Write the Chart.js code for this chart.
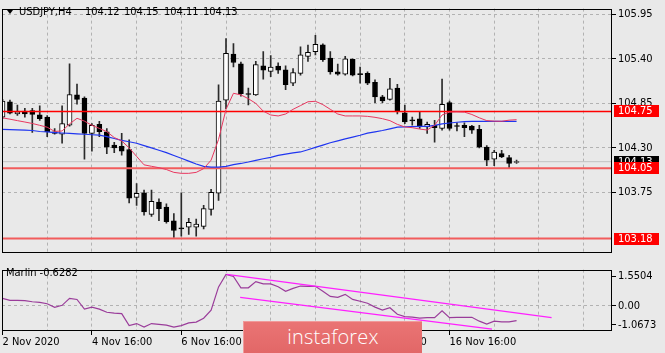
<!DOCTYPE html>
<html>
<head>
<meta charset="utf-8">
<script src="https://cdn.jsdelivr.net/npm/chart.js@4.4.1/dist/chart.umd.min.js"></script>
<style>
  html, body { margin: 0; padding: 0; background: #e9e9e9; }
  #wrap { position: relative; width: 665px; height: 353px; overflow: hidden; background: #e9e9e9;
          font-family: Tahoma, "DejaVu Sans Condensed", "Liberation Sans", sans-serif; font-size: 11px; color: #000; }
  #c1 { position: absolute; left: 0; top: 0; }
  #c2 { position: absolute; left: 0; top: 261px; }
  .t { position: absolute; white-space: pre; line-height: 13px; }
  #tri { position: absolute; left: 7px; top: 10px; width: 0; height: 0;
         border-left: 3.5px solid transparent; border-right: 3.5px solid transparent; border-top: 4px solid #000; }
  #logo { position: absolute; left: 243px; top: 321px; width: 179px; height: 40px;
          background: linear-gradient(#ea7474, #e06464); border-top: 1px solid #f09a9a; border-left: 1px solid #f09a9a;
          box-sizing: border-box; color: #fff; font-family: "Open Sans", "Lato", sans-serif; font-weight: 300;
          font-size: 20px; text-align: center; line-height: 30px; letter-spacing: 0.2px; }
</style>
</head>
<body>
<div id="wrap">
  <canvas id="c1" width="665" height="261"></canvas>
  <canvas id="c2" width="665" height="92"></canvas>
  <div id="tri"></div>
  <div class="t" style="left:19px;top:5px;">USDJPY,H4</div>
  <div class="t" style="left:85px;top:5px;">104.12</div>
  <div class="t" style="left:124px;top:5px;">104.15</div>
  <div class="t" style="left:164px;top:5px;">104.11</div>
  <div class="t" style="left:203px;top:5px;">104.13</div>
  <div class="t" style="left:6px;top:266px;">Marlin -0.6282</div>
  <div id="logo">instaforex</div>
</div>
<script>
// ---------------- data ----------------
const bars = [0,1,2,3,4,5,6,7,8,9,10,11,12,13,14,15,16,17,18,19,20,21,22,23,24,25,26,27,28,29,30,31,32,33,34,
  35,36,37,38,39,40,41,42,43,44,45,46,47,48,49,50,51,52,53,54,55,56,57,58,59,60,61,62,63,64,65,66,67,68,69];

const open  = [104.68,104.87,104.72,104.755,104.76,104.71,104.68,104.50,104.47,104.58,104.955,104.915,104.48,104.59,104.50,104.335,104.32,104.28,103.69,103.745,
  103.48,103.63,103.57,103.40,103.31,103.32,103.32,103.33,103.54,103.74,104.89,105.46,105.34,104.97,104.955,105.315,105.245,105.31,105.265,105.10,
  105.22,105.43,105.49,105.575,105.41,105.24,105.21,105.395,105.21,105.22,105.11,104.93,104.90,105.04,104.735,104.64,104.66,104.56,104.58,104.54,
  104.86,104.57,104.58,104.57,104.53,104.31,104.16,104.23,104.18,104.12];
const high  = [104.90,104.89,104.83,104.79,104.79,104.82,104.70,104.54,104.82,105.34,105.09,104.93,104.60,104.63,104.54,104.37,104.48,104.40,103.86,103.78,
  103.78,103.67,103.61,103.49,103.745,103.43,103.42,103.59,103.79,105.08,105.65,105.59,105.36,105.04,105.37,105.49,105.44,105.35,105.315,105.28,
  105.55,105.57,105.69,105.585,105.49,105.335,105.43,105.40,105.30,105.24,105.14,104.95,105.16,105.085,104.83,104.68,104.745,104.62,104.64,105.15,
  104.88,104.61,104.61,104.58,104.58,104.33,104.27,104.27,104.21,104.15];
const low   = [104.66,104.72,104.70,104.68,104.49,104.64,104.44,104.47,104.36,104.57,104.84,104.16,104.26,104.44,104.23,104.24,104.21,103.62,103.59,103.47,
  103.455,103.40,103.37,103.195,103.21,103.23,103.21,103.30,103.47,103.65,104.785,105.30,104.94,104.83,104.95,105.15,105.18,105.22,105.02,105.07,
  105.20,105.37,105.45,105.37,105.21,105.20,105.20,105.19,105.10,105.08,104.86,104.86,104.89,104.72,104.60,104.58,104.54,104.48,104.37,104.52,
  104.52,104.51,104.44,104.48,104.30,104.08,104.08,104.18,104.05,104.11];
const close = [104.88,104.73,104.745,104.72,104.715,104.66,104.50,104.48,104.60,104.96,104.90,104.48,104.58,104.50,104.31,104.30,104.26,103.68,103.74,103.51,
  103.64,103.55,103.39,103.28,103.30,103.38,103.36,103.55,103.75,104.88,105.47,105.355,104.97,104.96,105.33,105.26,105.30,105.26,105.08,105.23,
  105.45,105.48,105.58,105.39,105.24,105.21,105.40,105.20,105.205,105.10,104.93,104.88,105.03,104.755,104.62,104.635,104.56,104.59,104.55,104.84,
  104.54,104.565,104.55,104.52,104.31,104.15,104.25,104.19,104.11,104.13];

const maFast = [104.672,104.655,104.637,104.620,104.602,104.579,104.556,104.504,104.509,104.597,104.666,104.631,104.579,104.541,104.501,104.428,104.387,104.300,104.195,104.091,
  104.073,104.056,104.033,103.998,103.986,103.986,103.998,104.044,104.149,104.405,104.777,104.975,104.955,104.908,104.850,104.754,104.707,104.695,104.719,104.777,
  104.823,104.870,104.876,104.835,104.777,104.719,104.695,104.695,104.695,104.690,104.678,104.661,104.637,104.591,104.559,104.550,104.533,104.521,104.579,104.707,
  104.742,104.745,104.742,104.713,104.672,104.637,104.631,104.629,104.643,104.649];
const maSlow = [104.529,104.527,104.523,104.521,104.515,104.503,104.498,104.490,104.484,104.479,104.474,104.469,104.463,104.457,104.440,104.416,104.393,104.376,104.358,104.329,
  104.300,104.271,104.242,104.207,104.172,104.137,104.102,104.073,104.062,104.062,104.073,104.094,104.108,104.126,104.147,104.166,104.184,104.207,104.224,104.238,
  104.250,104.277,104.306,104.335,104.364,104.387,104.411,104.434,104.457,104.483,104.498,104.515,104.536,104.556,104.559,104.562,104.565,104.567,104.579,104.596,
  104.608,104.617,104.626,104.629,104.629,104.629,104.629,104.629,104.629,104.629];

const marlin = [0.324,0.240,0.240,0.229,0.179,0.152,0.095,-0.057,0.027,0.324,0.278,-0.133,-0.050,-0.133,-0.267,-0.305,-0.324,-0.838,-0.751,-0.903,
  -0.751,-0.781,-0.819,-0.903,-0.838,-0.724,-0.686,-0.522,-0.179,0.812,1.345,1.258,0.774,0.774,1.040,0.941,0.941,0.819,0.629,0.751,
  0.850,0.838,0.838,0.629,0.408,0.370,0.495,0.278,0.202,0.114,-0.050,-0.179,-0.076,-0.354,-0.457,-0.476,-0.522,-0.495,-0.495,-0.202,
  -0.495,-0.484,-0.484,-0.484,-0.648,-0.774,-0.648,-0.675,-0.675,-0.6282];

const trendUpperX = [30.1, 73.7];
const trendUpperY = [1.345, -0.495];
const trendLowerX = [31.9, 65.7];
const trendLowerY = [0.370, -0.991];

const priceTicks = [105.95, 105.40, 104.85, 104.30, 103.75];
const levelPrices = [104.75, 104.05, 103.18];
const bidPrice = 104.13;
const marlinTicks = [1.5504, 0, -1.0673];
const marlinTickLabels = ['1.5504', '0.00', '-1.0673'];
const dateTickBars = [0, 12, 24, 36, 48, 60];
const dateTickLabels = ['2 Nov 2020', '4 Nov 16:00', '6 Nov 16:00', '10 Nov 16:00', '12 Nov 16:00', '16 Nov 16:00'];
const gridBars = [6,12,18,24,30,36,42,48,54,60,66,72,78];

// ---------------- layout / style ----------------
const FONT = 'Tahoma, "DejaVu Sans Condensed", "Liberation Sans", sans-serif';
const X_MIN = -0.067, X_MAX = 81.81;
const GRID = '#b2b2b2';
const AXIS_W = 53;

const framePlugin = {
  id: 'frame',
  afterDraw(c) {
    const a = c.chartArea, g = c.ctx;
    g.save(); g.strokeStyle = '#000'; g.lineWidth = 1;
    g.strokeRect(Math.round(a.left) + 0.5, Math.round(a.top) + 0.5,
                 Math.round(a.right - a.left) - 1, Math.round(a.bottom - a.top) - 1);
    g.restore();
  }
};

const priceBoxes = {
  id: 'priceBoxes',
  afterDraw(c) {
    const y = c.scales.y, g = c.ctx;
    const boxes = [{v: bidPrice, bg: '#000'}].concat(levelPrices.map(v => ({v, bg: '#ff0000'})));
    g.save();
    g.font = '11px ' + FONT; g.textBaseline = 'middle'; g.textAlign = 'left';
    boxes.forEach(b => {
      const py = Math.round(y.getPixelForValue(b.v));
      g.fillStyle = b.bg; g.fillRect(614, py - 6, 45, 12);
      g.fillStyle = '#fff'; g.fillText(b.v.toFixed(2), 618, py + 0.5);
    });
    g.restore();
  }
};

const pts = (xs, ys) => xs.map((x, i) => ({x, y: ys[i]}));
const hline = v => [{x: X_MIN, y: v}, {x: X_MAX, y: v}];

Chart.defaults.font.family = FONT;
Chart.defaults.font.size = 11;
Chart.defaults.color = '#000';

new Chart(document.getElementById('c1'), {
  type: 'bar',
  data: {
    datasets: [
      {type: 'line', data: pts(bars, maFast), borderColor: '#e8375f', borderWidth: 1, pointRadius: 0, order: 0},
      {type: 'line', data: pts(bars, maSlow), borderColor: '#2036f0', borderWidth: 1.2, pointRadius: 0, order: 0},
      {type: 'line', data: hline(levelPrices[0]), borderColor: '#ff0000', borderWidth: 1.6, pointRadius: 0, order: 0},
      {type: 'line', data: hline(levelPrices[1]), borderColor: '#f25c5c', borderWidth: 2, pointRadius: 0, order: 0},
      {type: 'line', data: hline(levelPrices[2]), borderColor: '#f25c5c', borderWidth: 2, pointRadius: 0, order: 0},
      {type: 'bar', data: bars.map(i => ({x: i, y: [open[i], close[i]]})), barThickness: 5, grouped: false,
       minBarLength: 1, borderWidth: 1, borderColor: '#000', borderSkipped: false,
       backgroundColor: ctx => (close[ctx.dataIndex] > open[ctx.dataIndex] ? '#ffffff' : '#000000'), order: 1},
      {type: 'bar', data: bars.map(i => ({x: i, y: [low[i], high[i]]})), barThickness: 1, grouped: false,
       backgroundColor: '#2a2a2a', borderWidth: 0, order: 2},
      {type: 'line', data: hline(bidPrice), borderColor: '#c2c2c2', borderWidth: 1, pointRadius: 0, order: 3}
    ]
  },
  options: {
    responsive: false, animation: false, events: [],
    layout: {padding: {top: 1, left: 2, right: 0, bottom: 1}},
    plugins: {legend: {display: false}, tooltip: {enabled: false}},
    scales: {
      x: {type: 'linear', min: X_MIN, max: X_MAX, offset: false,
          grid: {offset: false, color: GRID, drawTicks: false},
          border: {display: false, dash: [3, 3]},
          ticks: {display: false},
          afterBuildTicks: a => { a.ticks = gridBars.map(v => ({value: v})); },
          afterFit: a => { a.height = 0; }},
      y: {position: 'right', min: 103.0094, max: 106.021,
          grid: {color: GRID, tickColor: '#000', tickLength: 4},
          border: {display: false, dash: [3, 3]},
          ticks: {padding: 2, color: '#000', font: {size: 11, family: FONT}, callback: v => Number(v).toFixed(2)},
          afterBuildTicks: a => { a.ticks = priceTicks.map(v => ({value: v})); },
          afterFit: a => { a.width = AXIS_W; }}
    }
  },
  plugins: [framePlugin, priceBoxes]
});

const M_MAX = 1.5504, M_MIN = -1.0673, LABEL_INSET = 0.30;
new Chart(document.getElementById('c2'), {
  type: 'line',
  data: {
    datasets: [
      {data: pts(trendUpperX, trendUpperY), borderColor: '#ff20ff', borderWidth: 1.2, pointRadius: 0},
      {data: pts(trendLowerX, trendLowerY), borderColor: '#ff20ff', borderWidth: 1.2, pointRadius: 0},
      {data: pts(bars, marlin), borderColor: '#9a3c9a', borderWidth: 1.2, pointRadius: 0}
    ]
  },
  options: {
    responsive: false, animation: false, events: [],
    layout: {padding: {top: 1, left: 2, right: 0, bottom: 0}},
    plugins: {legend: {display: false}, tooltip: {enabled: false}},
    scales: {
      x: {type: 'linear', min: X_MIN, max: X_MAX, offset: false,
          grid: {offset: false, tickLength: 4,
                 color: c => (c.tick && c.tick.value === 0 ? 'transparent' : GRID),
                 tickColor: c => (c.tick && dateTickBars.includes(c.tick.value) ? '#000' : 'transparent')},
          border: {display: false, dash: [3, 3]},
          ticks: {autoSkip: false, maxRotation: 0, minRotation: 0, align: 'start', padding: 1, color: '#000',
                  font: {size: 11, family: FONT},
                  callback: v => { const k = dateTickBars.indexOf(v); return k >= 0 ? dateTickLabels[k] : ''; }},
          afterBuildTicks: a => { a.ticks = [0].concat(gridBars).map(v => ({value: v})); },
          afterFit: a => { a.height = 22; }},
      y: {position: 'right', min: M_MIN, max: M_MAX,
          grid: {tickLength: 4, tickColor: '#000',
                 color: c => (c.tick && Math.abs(c.tick.value) < 1e-9 ? GRID : 'transparent')},
          border: {display: false, dash: [3, 3]},
          ticks: {padding: 2, color: '#000', font: {size: 11, family: FONT},
                  callback: (v, i) => marlinTickLabels[i]},
          afterBuildTicks: a => {
            a.ticks = [M_MAX - LABEL_INSET, marlinTicks[1], M_MIN + LABEL_INSET * 0.9].map(v => ({value: v}));
          },
          afterFit: a => { a.width = AXIS_W; }}
    }
  },
  plugins: [framePlugin]
});
</script>
</body>
</html>
